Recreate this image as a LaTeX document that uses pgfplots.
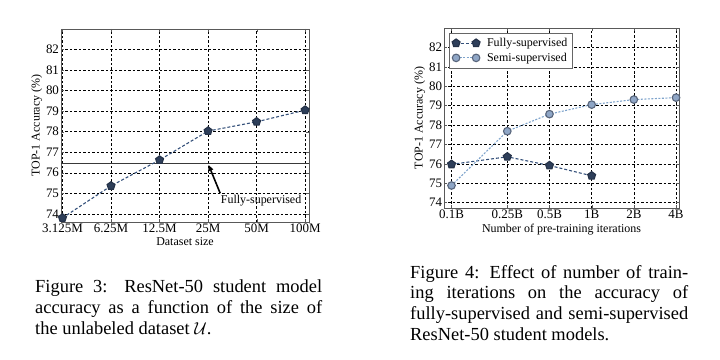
\documentclass[border=0pt]{standalone}
\usepackage{pgfplots}
\pgfplotsset{compat=1.18}
\usepackage{fontspec}
\setmainfont{Liberation Serif}
\usetikzlibrary{arrows.meta}
\definecolor{navy}{HTML}{2E3F5A}
\definecolor{semifill}{HTML}{8FA6C6}
\definecolor{semiline}{HTML}{7FA4CC}
\definecolor{fullline}{HTML}{34507A}
\pgfplotsset{
  mystyle/.style={
    scale only axis,
    grid=major,
    major grid style={black, dash pattern=on 2.5pt off 2pt, line width=0.4pt},
    axis line style={black!65, line width=0.6pt},
    tick align=inside,
    major tick length=3pt,
    tick style={black!65},
    ticklabel style={font=\fontsize{13}{13}\selectfont},
    label style={font=\fontsize{12}{12}\selectfont},
    /pgf/number format/assume math mode=true,
    ytick={74,75,76,77,78,79,80,81,82},
    ymax=83,
    yticklabel style={xshift=1.5pt},
    xticklabel style={yshift=1.5pt},
  }
}
\begin{document}
\begin{tikzpicture}[x=1bp,y=1bp]
\path[use as bounding box] (0,0) rectangle (720,359);
% ---------- left panel ----------
\begin{axis}[mystyle,
  at={(61bp,137bp)}, anchor=south west,
  width=248bp, height=193bp,
  xmin=-0.031, xmax=5.08, ymin=73.6,
  xtick={0,1,2,3,4,5},
  xticklabels={3.125M,6.25M,12.5M,25M,50M,100M},
  xlabel={Dataset size},
  ylabel={TOP-1 Accuracy (\%)},
  xlabel style={yshift=2pt},
  ylabel style={yshift=-3pt},
]
\addplot[color=darkgray!90!black, line width=1.4pt, forget plot] coordinates {(-0.031,76.46) (5.08,76.46)};
\addplot[color=fullline, line width=1.1pt, dash pattern=on 3pt off 2pt,
  mark=pentagon*, mark size=4.2pt, mark options={solid, fill=navy, draw=navy!80!black}]
  coordinates {(0,73.8) (1,75.36) (2,76.62) (3,78.03) (4,78.48) (5,79.05)};
\draw[-{Triangle[length=6pt,width=5pt]}, line width=1.6pt, black] (axis cs:3.25,75.0) -- (axis cs:3.01,76.38);
\node[anchor=west, font=\fontsize{12}{12}\selectfont, inner sep=0pt] at (axis cs:3.26,74.63) {Fully-supervised};
\end{axis}
% ---------- right panel ----------
\begin{axis}[mystyle,
  at={(444bp,151bp)}, anchor=south west,
  width=235bp, height=180bp,
  xmode=log, log basis x=2,
  xmin=0.0884, xmax=4.2, ymin=73.72,
  xtick={0.1,0.25,0.5,1,2,4},
  xticklabels={0.1B,0.25B,0.5B,1B,2B,4B},
  xlabel={Number of pre-training iterations},
  ylabel={TOP-1 Accuracy (\%)},
  xlabel style={yshift=2pt},
  ylabel style={yshift=-3pt},
  legend style={at={(0.021,0.972)}, anchor=north west, draw=black!60, fill=white,
    font=\fontsize{12}{12}\selectfont, cells={anchor=west}, row sep=1pt, inner sep=3pt},
  legend image code/.code={\draw[#1] plot coordinates {(0bp,0bp) (20bp,0bp)};},
]
\addplot[color=fullline, line width=1.1pt, dash pattern=on 3pt off 2pt,
  mark=pentagon*, mark size=4.2pt, mark options={solid, fill=navy, draw=navy!80!black}]
  coordinates {(0.1,75.97) (0.25,76.36) (0.5,75.91) (1,75.38)};
\addlegendentry{\hspace{5pt}Fully-supervised}
\addplot[color=semiline, line width=1.1pt, dash pattern=on 2pt off 1.5pt,
  mark=*, mark size=3.8pt, mark options={solid, fill=semifill, draw=navy!80}]
  coordinates {(0.1,74.88) (0.25,77.68) (0.5,78.56) (1,79.05) (2,79.31) (4,79.41)};
\addlegendentry{\hspace{5pt}Semi-supervised}
\end{axis}
% ---------- captions ----------
\begin{scope}[every node/.style={anchor=base west, inner sep=0pt, font=\fontsize{18.5}{20}\selectfont}]
\node at (35,359-292) {\makebox[287bp][s]{Figure 3: ResNet-50 student model}};
\node at (35,359-313) {\makebox[287bp][s]{accuracy as a function of the size of}};
\node at (35,359-334) {the unlabeled dataset $\mathcal{U}$.};
\node at (410,359-278) {\makebox[278bp][s]{Figure 4: Effect of number of train-}};
\node at (410,359-298) {\makebox[278bp][s]{ing iterations on the accuracy of}};
\node at (410,359-319) {\makebox[278bp][s]{fully-supervised and semi-supervised}};
\node at (410,359-340) {ResNet-50 student models.};
\end{scope}
\end{tikzpicture}
\end{document}
